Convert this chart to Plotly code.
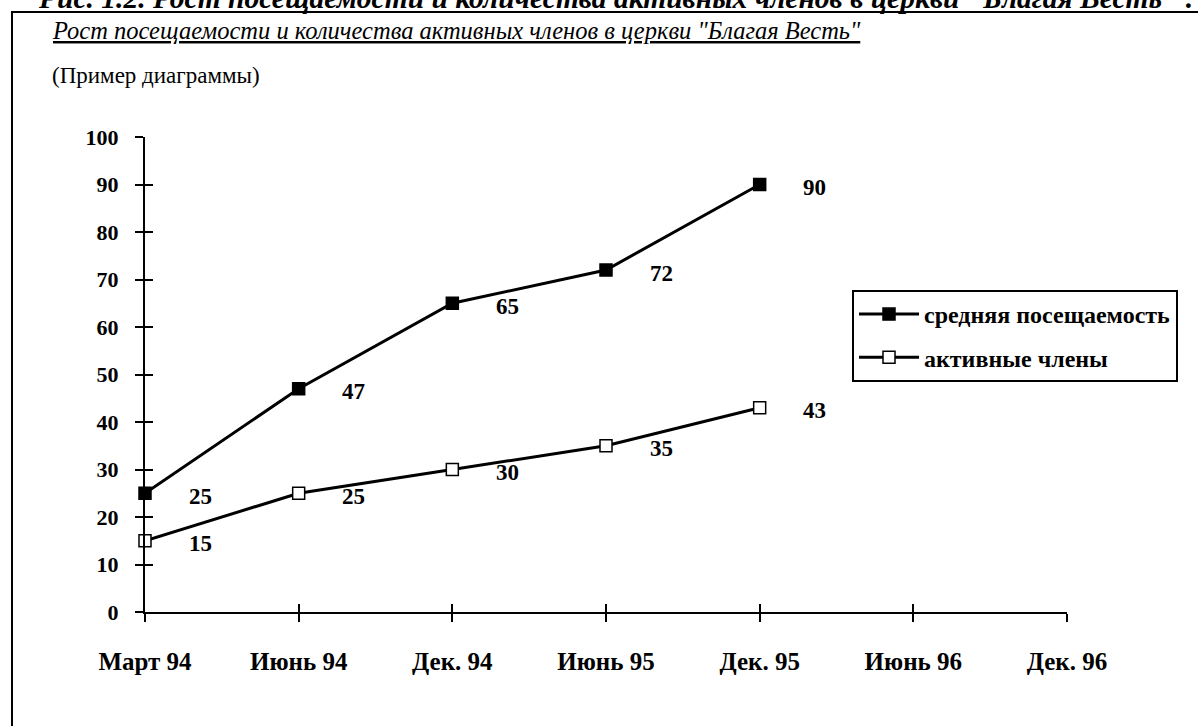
import plotly.graph_objects as go

categories = ["Март 94", "Июнь 94", "Дек. 94", "Июнь 95", "Дек. 95", "Июнь 96", "Дек. 96"]
attendance_name = "средняя посещаемость"
members_name = "активные члены"
attendance = [25, 47, 65, 72, 90]
members = [15, 25, 30, 35, 43]
y_ticks = [0, 10, 20, 30, 40, 50, 60, 70, 80, 90, 100]

FONT = "Liberation Serif"
W, H = 1198, 726
L, R, T, B = 145, 131, 137, 114
PW, PH = W - L - R, H - T - B


def px_x(p):
    return (p - L) / PW


def px_y(p):
    return (H - B - p) / PH


fig = go.Figure()
fig.add_trace(go.Scatter(
    x=categories[:len(attendance)], y=attendance, name=attendance_name,
    legendgroup="a",
    mode="lines+markers", line=dict(color="black", width=3),
    marker=dict(symbol="square", size=12, color="black", line=dict(color="black", width=1.5)),
    cliponaxis=False,
))
fig.add_trace(go.Scatter(
    x=categories[:len(members)], y=members, name=members_name,
    legendgroup="b",
    mode="lines+markers", line=dict(color="black", width=3),
    marker=dict(symbol="square", size=12, color="white", line=dict(color="black", width=1.5)),
    cliponaxis=False,
))
# invisible trace to activate the overlay axes (for cross tick marks)
fig.add_trace(go.Scatter(x=categories[:1], y=[0], xaxis="x2", yaxis="y2",
                         mode="markers", marker=dict(opacity=0), showlegend=False,
                         hoverinfo="skip"))

annotations = []
for series in (attendance, members):
    for cat, v in zip(categories, series):
        annotations.append(dict(
            x=cat, y=v, xref="x", yref="y", text=str(v), showarrow=False,
            xshift=55, yshift=-3,
            font=dict(family=FONT, size=23, color="black", weight="bold"),
        ))

annotations += [
    dict(xref="paper", yref="paper", x=px_x(36), y=px_y(-2), xanchor="left", yanchor="middle",
         text="<b><i>Рис. 1.2. Рост посещаемости и количества активных членов в церкви \"Благая Весть\" .</i></b>",
         showarrow=False, font=dict(family=FONT, size=29.5, color="black")),
    dict(xref="paper", yref="paper", x=px_x(50), y=px_y(30), xanchor="left", yanchor="middle",
         text="<i><u>Рост посещаемости и количества активных членов в церкви \"Благая Весть\"</u></i>",
         showarrow=False, font=dict(family=FONT, size=24.5, color="black")),
    dict(xref="paper", yref="paper", x=px_x(50), y=px_y(75), xanchor="left", yanchor="middle",
         text="(Пример диаграммы)",
         showarrow=False, font=dict(family=FONT, size=23, color="black")),
]

axis_common = dict(showline=True, linecolor="black", linewidth=2, ticklen=8, tickwidth=2,
                   tickcolor="black", showgrid=False, zeroline=False)

fig.update_layout(
    width=W, height=H,
    margin=dict(l=L, r=R, t=T, b=B),
    paper_bgcolor="white", plot_bgcolor="white",
    font=dict(family=FONT, color="black"),
    xaxis=dict(type="category", categoryorder="array", categoryarray=categories,
               range=[0, len(categories) - 1], ticks="outside", ticklabelstandoff=18,
               tickfont=dict(family=FONT, size=25, color="black", weight="bold"),
               **axis_common),
    yaxis=dict(range=[0, 100], tickvals=y_ticks, ticks="outside", ticklabelstandoff=12,
               tickfont=dict(family=FONT, size=22, color="black", weight="bold"),
               **axis_common),
    xaxis2=dict(type="category", categoryorder="array", categoryarray=categories,
                range=[0, len(categories) - 1], overlaying="x", anchor="y2", side="bottom",
                ticks="inside", showticklabels=False, **axis_common),
    yaxis2=dict(range=[0, 100], tickvals=y_ticks, overlaying="y", anchor="x2", side="left",
                ticks="inside", showticklabels=False, **axis_common),
    showlegend=True,
    legend=dict(x=px_x(852), y=px_y(290), xanchor="left", yanchor="top",
                bgcolor="white", bordercolor="black", borderwidth=2,
                font=dict(family=FONT, size=24, color="black", weight="bold"),
                tracegroupgap=9, itemwidth=60),
    annotations=annotations,
    shapes=[dict(type="rect", xref="paper", yref="paper",
                 x0=px_x(12), x1=px_x(1230), y0=px_y(760), y1=px_y(12),
                 line=dict(color="black", width=2), fillcolor="rgba(0,0,0,0)", layer="below")],
)

fig.write_html("out.html", config={"displayModeBar": False},
               post_script="document.body.style.margin='0';document.body.style.overflow='hidden';")
